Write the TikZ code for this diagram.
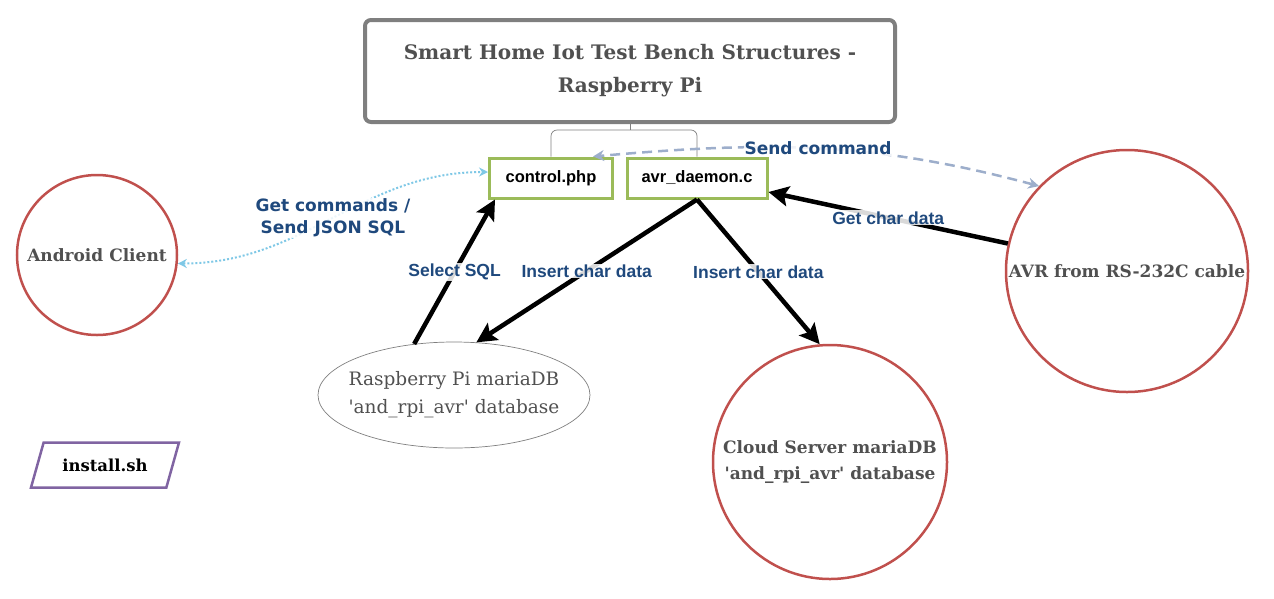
\documentclass[tikz,border=0pt]{standalone}
\usepackage{fontspec}
\setmainfont{DejaVu Serif}
\newfontfamily\labelfont{DejaVu Sans}
\newfontfamily\filefont{Liberation Sans}
\usetikzlibrary{arrows.meta,shapes.geometric}

\definecolor{titlegray}{HTML}{7F7F7F}
\definecolor{textgray}{HTML}{505050}
\definecolor{filegreen}{HTML}{9BBB59}
\definecolor{devicered}{HTML}{C0504D}
\definecolor{scriptpurple}{HTML}{8064A2}
\definecolor{labelblue}{HTML}{1F497D}
\definecolor{dotblue}{HTML}{7FC8E6}
\definecolor{dashblue}{HTML}{9DAECB}

\begin{document}
\begin{tikzpicture}[x=1pt,y=-1pt,
  title node/.style={rectangle,rounded corners=6pt,draw=titlegray,line width=4pt,minimum width=530pt,minimum height=102pt,
    align=center,text=textgray,font=\fontsize{20}{33}\selectfont\bfseries},
  file node/.style={rectangle,draw=filegreen,line width=3pt,minimum height=40pt,font=\filefont\fontsize{16.5}{18}\selectfont\bfseries},
  device node/.style={circle,draw=devicered,line width=2.5pt,inner sep=1pt,align=center,text=textgray,
    font=\fontsize{17}{26}\selectfont\bfseries},
  db node/.style={ellipse,draw=titlegray,line width=0.7pt,inner xsep=-12pt,inner ysep=0pt,minimum width=272pt,minimum height=106pt,
    align=center,text=textgray,font=\fontsize{18.5}{28}\selectfont},
  script node/.style={trapezium,trapezium left angle=64,trapezium right angle=116,trapezium stretches=true,
    draw=scriptpurple,line width=2.5pt,minimum width=148pt,minimum height=45pt,font=\fontsize{16.5}{18}\selectfont\bfseries},
  data line/.style={line width=4.5pt,-{Stealth[length=20pt,width=20pt,inset=4pt]}},
  edge label/.style={fill=white,fill opacity=0.85,text opacity=1,text=labelblue,inner sep=1pt,
    font=\filefont\fontsize{17.5}{19}\selectfont\bfseries},
  wide label/.style={edge label,align=center,font=\labelfont\fontsize{17}{22}\selectfont\bfseries}]

 \useasboundingbox (0,0) rectangle (1274,598);

 \node[title node] (title) at (630,71) {Smart Home Iot Test Bench Structures -\\Raspberry Pi};
 \node[file node,minimum width=123pt] (control) at (551,178) {control.php};
 \node[file node,minimum width=140pt] (daemon) at (697,178) {avr\_daemon.c};
 \node[device node,minimum size=160pt] (android) at (97,255) {Android Client};
 \node[device node,minimum size=242pt] (avr) at (1127,271) {AVR from RS-232C cable};
 \node[device node,minimum size=234pt] (cloud) at (830,462) {Cloud Server mariaDB\\\textquotesingle and\_rpi\_avr\textquotesingle\ database};
 \node[db node] (rpidb) at (454,395) {Raspberry Pi mariaDB\\\textquotesingle and\_rpi\_avr\textquotesingle\ database};
 \node[script node] (install) at (105,465) {install.sh};

 \coordinate (fork) at (630,130);
 \draw[titlegray,line width=0.7pt] (title.south) -- (fork);
 \draw[titlegray,line width=0.7pt,rounded corners=6pt] (control.north) |- (fork) -| (daemon.north);

 \path
    (android.-6) edge [dotblue,line width=2pt,dotted,{Stealth[length=9pt,width=9pt]}-{Stealth[length=9pt,width=9pt]},out=0,in=180]
        node[wide label] {Get commands /\\Send JSON SQL} ([yshift=6pt]control.west)
    (avr.136) edge [dashblue,line width=2.5pt,dash pattern=on 10pt off 6pt,{Stealth[length=11pt,width=11pt]}-{Stealth[length=11pt,width=11pt]},out=165,in=5]
        node[wide label] {Send command} ([xshift=-21pt]control.north east)
    (rpidb.128) edge [data line] node[edge label] {Select SQL} ([xshift=7pt]control.south west)
    (daemon.south) edge [data line] node[edge label] {Insert char data} (rpidb.67)
    (daemon.south) edge [data line] node[edge label] {Insert char data} (cloud.95)
    (avr.167) edge [data line] node[edge label] {Get char data} ([yshift=-14pt]daemon.east);

\end{tikzpicture}
\end{document}
